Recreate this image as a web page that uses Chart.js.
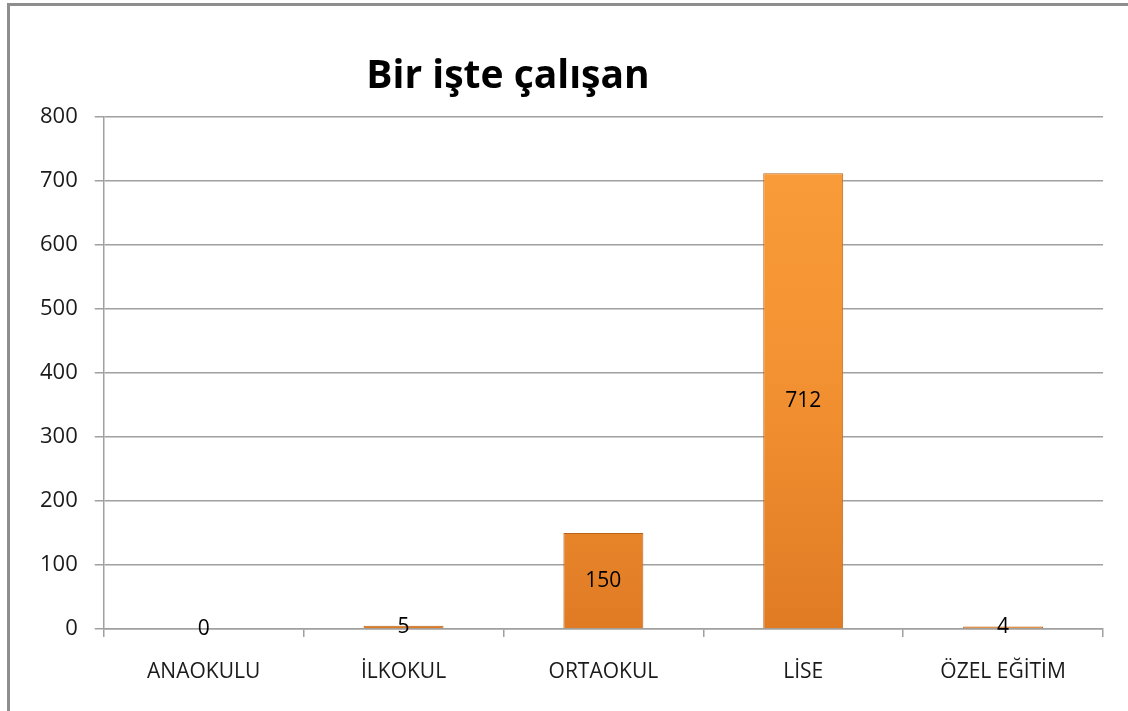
<!DOCTYPE html>
<html>
<head>
<meta charset="utf-8">
<script src="https://cdn.jsdelivr.net/npm/chart.js@4"></script>
<style>
  html, body { margin: 0; padding: 0; background: #fff; overflow: hidden; }
  .frame {
    position: absolute; left: 7px; top: 3px;
    width: 1140px; height: 730px;
    border: 3px solid #8e8e8e;
  }
  #wrap { position: absolute; left: 0; top: 0; width: 1128px; height: 711px; }
</style>
</head>
<body>
<div class="frame"></div>
<div id="wrap"><canvas id="workChart"></canvas></div>
<script>
// Education levels and number of people working
const levels = ['ANAOKULU', 'İLKOKUL', 'ORTAOKUL', 'LİSE', 'ÖZEL EĞİTİM'];
const workers = [0, 5, 150, 712, 4];
const yTicks = [0, 100, 200, 300, 400, 500, 600, 700, 800];
const chartTitle = 'Bir işte çalışan';

const FONT = '"Open Sans", "DejaVu Sans", sans-serif';

// orange bars, lighter at the top, darker toward the base
function barFill(context) {
  const chart = context.chart;
  const area = chart.chartArea;
  if (!area) return '#f39332';
  const g = chart.ctx.createLinearGradient(0, area.top, 0, area.bottom);
  g.addColorStop(0, '#fb9e3a');
  g.addColorStop(0.5, '#f39232');
  g.addColorStop(1, '#e07b24');
  return g;
}

// title sits left of centre, above the plot
const titlePlugin = {
  id: 'sideTitle',
  afterDraw(chart) {
    const ctx = chart.ctx;
    ctx.save();
    ctx.font = 'bold 39px ' + FONT;
    ctx.fillStyle = '#000';
    ctx.textAlign = 'center';
    ctx.textBaseline = 'middle';
    ctx.fillText(chartTitle, 508, 77);
    ctx.restore();
  }
};

// value labels in the middle of each bar
const valueLabels = {
  id: 'valueLabels',
  afterDatasetsDraw(chart) {
    const ctx = chart.ctx;
    const meta = chart.getDatasetMeta(0);
    ctx.save();
    ctx.font = '21px ' + FONT;
    ctx.fillStyle = '#000';
    ctx.textAlign = 'center';
    ctx.textBaseline = 'middle';
    meta.data.forEach((bar, i) => {
      const y = (bar.y + bar.base) / 2;
      ctx.fillText(String(workers[i]), bar.x, y);
    });
    ctx.restore();
  }
};

const ctx = document.getElementById('workChart').getContext('2d');
new Chart(ctx, {
  type: 'bar',
  data: {
    labels: levels,
    datasets: [{
      label: chartTitle,
      data: workers,
      backgroundColor: barFill,
      borderColor: '#b8641c',
      borderWidth: 1,
      barPercentage: 0.4,
      categoryPercentage: 1.0
    }]
  },
  options: {
    responsive: true,
    maintainAspectRatio: false,
    animation: false,
    layout: { padding: { top: 117, right: 25, bottom: 0, left: 23 } },
    plugins: {
      legend: { display: false },
      title: { display: false },
      tooltip: { enabled: false }
    },
    scales: {
      x: {
        afterFit(scale) {
          scale.height = 82;
        },
        grid: {
          display: true,
          drawOnChartArea: false,
          drawTicks: true,
          tickLength: 8,
          color: '#a0a0a0',
          lineWidth: 1.5,
          offset: true
        },
        border: { color: '#a0a0a0', width: 1.5 },
        ticks: {
          color: '#1a1a1a',
          font: { family: FONT, size: 21 },
          padding: 22,
          maxRotation: 0
        }
      },
      y: {
        min: 0,
        max: 800,
        afterBuildTicks(axis) {
          axis.ticks = yTicks.map(v => ({ value: v }));
        },
        grid: {
          color: '#a0a0a0',
          lineWidth: 1.5,
          tickLength: 9
        },
        border: { color: '#a0a0a0', width: 1.5 },
        ticks: {
          color: '#1a1a1a',
          font: { family: FONT, size: 22 },
          padding: 17
        }
      }
    }
  },
  plugins: [titlePlugin, valueLabels]
});
</script>
</body>
</html>
